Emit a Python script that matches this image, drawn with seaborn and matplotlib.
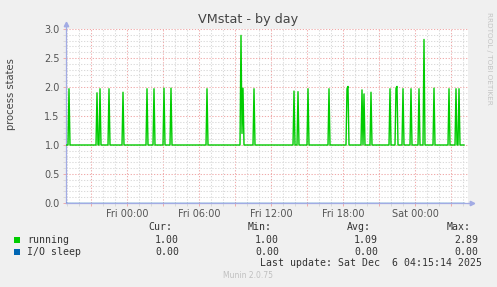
import numpy as np
import pandas as pd
import matplotlib
matplotlib.use("Agg")
import matplotlib.pyplot as plt
import matplotlib.dates as mdates
from matplotlib.ticker import MultipleLocator, FuncFormatter
from matplotlib.patches import Rectangle
import seaborn as sns

# ---------------- data ----------------
title = "VMstat - by day"
y_label = "process states"
series_names = ["running", "I/O sleep"]
series_colors = ["#00CC00", "#0066B3"]
start_time = "2025-12-04 18:55"
end_time = "2025-12-06 04:05"
view_end = "2025-12-06 04:25"
running_baseline = 1.0
io_sleep_baseline = 0.0
spike_times = [
    "2025-12-04 19:10", "2025-12-04 21:30", "2025-12-04 21:45", "2025-12-04 22:30",
    "2025-12-04 23:40", "2025-12-05 01:40", "2025-12-05 02:15", "2025-12-05 03:05",
    "2025-12-05 03:40", "2025-12-05 06:40", "2025-12-05 09:30", "2025-12-05 09:35",
    "2025-12-05 09:40", "2025-12-05 10:35", "2025-12-05 13:55", "2025-12-05 14:15",
    "2025-12-05 15:05", "2025-12-05 16:50", "2025-12-05 18:20", "2025-12-05 18:25",
    "2025-12-05 19:35", "2025-12-05 19:45", "2025-12-05 20:20", "2025-12-05 21:55",
    "2025-12-05 22:25", "2025-12-05 22:30", "2025-12-05 23:00", "2025-12-05 23:40",
    "2025-12-06 00:20", "2025-12-06 00:45", "2025-12-06 01:35", "2025-12-06 02:50",
    "2025-12-06 03:25", "2025-12-06 03:40",
]
spike_values = [
    1.97, 1.90, 1.97, 1.97,
    1.91, 1.97, 1.97, 1.98,
    1.98, 1.97, 2.89, 1.20,
    1.98, 1.97, 1.93, 1.92,
    1.97, 1.97, 1.97, 2.01,
    1.95, 1.88, 1.91, 1.97,
    1.98, 2.01, 1.97, 1.97,
    1.97, 2.82, 1.98, 1.97,
    1.97, 1.97,
]
legend_headers = ["Cur:", "Min:", "Avg:", "Max:"]
running_stats = ["1.00", "1.00", "1.09", "2.89"]
io_sleep_stats = ["0.00", "0.00", "0.00", "0.00"]
last_update = "Last update: Sat Dec  6 04:15:14 2025"
footer = "Munin 2.0.75"
side_text = "RRDTOOL / TOBI OETIKER"

# ---------------- build frame ----------------
times = pd.date_range(start_time, end_time, freq="5min")
running = pd.Series(running_baseline, index=times)
running.loc[pd.to_datetime(spike_times)] = spike_values
io_sleep = pd.Series(io_sleep_baseline, index=times)
df = pd.concat([
    pd.DataFrame({"time": times, "value": io_sleep.values, "series": series_names[1]}),
    pd.DataFrame({"time": times, "value": running.values, "series": series_names[0]}),
])

# ---------------- figure ----------------
W, H = 497, 287
BG = "#F0F0F0"
fig = plt.figure(figsize=(W / 100, H / 100), dpi=100, facecolor=BG)
L, R, T, B = 66, 468, 29, 203
ax = fig.add_axes([L / W, 1 - B / H, (R - L) / W, (B - T) / H])
ax.set_facecolor("white")

sns.lineplot(data=df, x="time", y="value", hue="series",
             palette={series_names[0]: series_colors[0], series_names[1]: series_colors[1]},
             hue_order=[series_names[1], series_names[0]],
             linewidth=1.0, legend=False, ax=ax, zorder=3)

ax.set_xlim(pd.Timestamp(start_time), pd.Timestamp(view_end))
ax.set_ylim(0, 3.0)

# grid
minor_c = "#D9D9D9"
major_c = "#F0AAAA"
ax.xaxis.set_major_locator(mdates.HourLocator(byhour=range(0, 24, 3)))
ax.xaxis.set_minor_locator(mdates.HourLocator())
def xfmt(v, pos):
    d = mdates.num2date(v)
    return d.strftime("%a %H:%M") if d.hour % 6 == 0 else ""
ax.xaxis.set_major_formatter(FuncFormatter(xfmt))
ax.yaxis.set_major_locator(MultipleLocator(0.5))
ax.yaxis.set_minor_locator(MultipleLocator(0.1))
ax.yaxis.set_major_formatter(FuncFormatter(lambda v, p: f"{v:.1f}"))

ax.grid(which="minor", color=minor_c, linestyle=(0, (1.2, 1.6)), linewidth=0.75, zorder=0)
ax.grid(which="major", color=major_c, linestyle=(0, (1.2, 1.6)), linewidth=0.75, zorder=0)
ax.set_axisbelow(True)

ax.tick_params(axis="both", which="major", length=2.5, width=0.7, color=major_c,
               labelsize=7, labelcolor="#555555", pad=2)
ax.tick_params(axis="both", which="minor", length=2, width=0.7, color=minor_c)
ax.set_xlabel("")
ax.set_ylabel("")

axis_c = "#A2ABE4"
for s in ["top", "right"]:
    ax.spines[s].set_visible(False)
for s in ["left", "bottom"]:
    ax.spines[s].set_color(axis_c)
    ax.spines[s].set_linewidth(0.9)
    ax.spines[s].set_zorder(2.5)
# axis extensions with arrows
ax.plot([0, 0], [1.0, 1.03], color=axis_c, lw=0.9, transform=ax.transAxes, clip_on=False)
ax.plot([1.0, 1.01], [0, 0], color=axis_c, lw=0.9, transform=ax.transAxes, clip_on=False)
ax.plot([0], [1.03], marker="^", markersize=3.2, color=axis_c, transform=ax.transAxes, clip_on=False)
ax.plot([1.01], [0], marker=">", markersize=3.2, color=axis_c, transform=ax.transAxes, clip_on=False)

# texts
def fx(x):
    return x / W
def fy(y):
    return 1 - y / H

fig.text(fx(248), fy(19.5), title, ha="center", va="center", fontsize=9.2, color="#444444",
         family="DejaVu Sans")
fig.text(fx(11), fy(94), y_label, ha="center", va="center", rotation=90, fontsize=7.2,
         color="#444444", family="DejaVu Sans")
fig.text(fx(489), fy(58), side_text, ha="center", va="center", rotation=270, fontsize=5.2,
         color="#C4C4C4", family="DejaVu Sans")

mono = "DejaVu Sans Mono"
lc = "#333333"
fs = 7.1
header_x = [172, 272, 371, 471]
value_x = [179, 279, 378, 478]
for hx, h in zip(header_x, legend_headers):
    fig.text(fx(hx), fy(227), h, ha="right", va="center", fontsize=fs, color=lc, family=mono)
for row_y, name, color, stats in [(240, series_names[0], series_colors[0], running_stats),
                                  (252, series_names[1], series_colors[1], io_sleep_stats)]:
    fig.patches.append(Rectangle((fx(14), fy(row_y + 3)), 6 / W, 6 / H, transform=fig.transFigure,
                                 facecolor=color, edgecolor="none", figure=fig))
    fig.text(fx(27), fy(row_y), name, ha="left", va="center", fontsize=fs, color=lc, family=mono)
    for vx, v in zip(value_x, stats):
        fig.text(fx(vx), fy(row_y), v, ha="right", va="center", fontsize=fs, color=lc, family=mono)
fig.text(fx(482), fy(263), last_update, ha="right", va="center", fontsize=fs, color=lc, family=mono)
fig.text(fx(248), fy(276), footer, ha="center", va="center", fontsize=5.5, color="#C0C0C0",
         family="DejaVu Sans")

fig.savefig("out.png", dpi=100, facecolor=BG)
